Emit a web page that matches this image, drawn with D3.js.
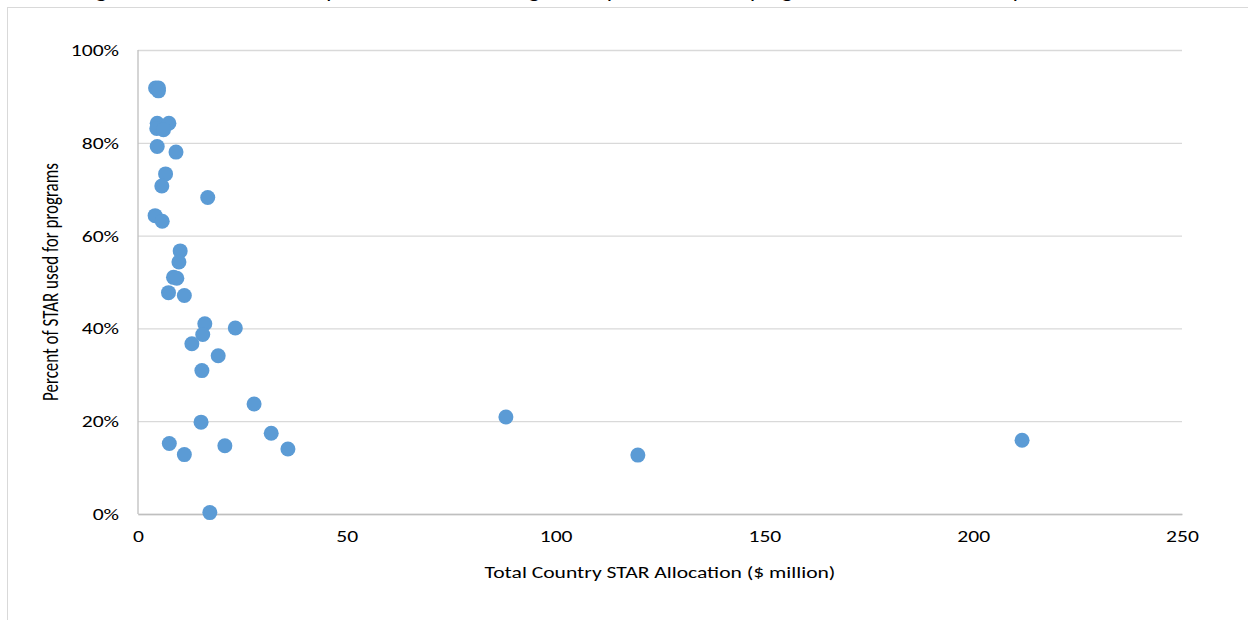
<!DOCTYPE html>
<html><head><meta charset="utf-8">
<script src="https://cdn.jsdelivr.net/npm/d3@7"></script>
<style>
body{margin:0;background:#fff}
svg{display:block}
text{font-family:Carlito,Calibri,Lato,sans-serif}
</style>
</head><body>
<svg id="c" width="1248" height="620"></svg>
<script>
// Data: total country STAR allocation ($ million) and percent used for programs
const allocation = [4.2, 4.9, 4.9, 4.6, 7.4, 4.5, 6.1, 4.6, 9.1, 6.6, 5.7, 16.7, 4.1, 5.8,
  10.1, 9.8, 8.5, 9.3, 7.3, 11.1, 16.0, 23.3, 15.5, 12.9, 19.2, 15.3, 27.8, 15.1, 31.9,
  7.5, 20.8, 35.9, 11.1, 17.2, 88.1, 119.7, 211.7];
const percentUsed = [0.918, 0.918, 0.912, 0.842, 0.842, 0.831, 0.828, 0.792, 0.780, 0.733,
  0.707, 0.682, 0.643, 0.631, 0.567, 0.543, 0.510, 0.508, 0.477, 0.471, 0.410, 0.401,
  0.387, 0.367, 0.341, 0.309, 0.237, 0.198, 0.174, 0.152, 0.147, 0.140, 0.128, 0.003,
  0.209, 0.127, 0.159];
const xTicks = [0, 50, 100, 150, 200, 250];
const yTicks = [0, 0.2, 0.4, 0.6, 0.8, 1.0];
const xTitle = "Total Country STAR Allocation ($ million)";
const yTitle = "Percent of STAR used for programs";
const titleBold = "Figure 7:";
const titleRest = " Percent of STAR spent on activities using country vs. total STAR program allocation over the period";

const SX = 1.27; // horizontal stretch of the reference's lettering
const svg = d3.select("#c");
const L = 138, R = 1182, T = 50, B = 514;
const x = d3.scaleLinear().domain([0, 250]).range([L, R]);
const y = d3.scaleLinear().domain([0, 1]).range([B, T]);

// chart area border
svg.append("rect").attr("x", 7.5).attr("y", 7.5).attr("width", 1260).attr("height", 640)
  .attr("fill", "none").attr("stroke", "#d9d9d9").attr("stroke-width", 1);

// clipped title (only the descenders are visible, as in the reference)
const tt = svg.append("text").attr("transform", `translate(80,-2.5) scale(${SX},1)`)
  .attr("font-size", 18).attr("fill", "#000");
tt.append("tspan").attr("font-weight", "bold").text(titleBold);
tt.append("tspan").text(titleRest);

// y axis with gridlines
const gy = svg.append("g").attr("transform", `translate(${L},0)`)
  .call(d3.axisLeft(y).tickValues(yTicks).tickFormat(d3.format(".0%"))
    .tickSize(-(R - L)).tickPadding(19));
gy.select(".domain").remove();
gy.selectAll(".tick line").attr("stroke", "#d9d9d9").attr("stroke-width", 1.3);
gy.selectAll(".tick text").attr("font-size", 17).attr("fill", "#000")
  .attr("font-family", "Carlito,Calibri,Lato,sans-serif")
  .attr("x", -19 / SX).attr("transform", `scale(${SX},1)`);

// y axis line
svg.append("line").attr("x1", L).attr("x2", L).attr("y1", T).attr("y2", B)
  .attr("stroke", "#bfbfbf").attr("stroke-width", 1.3);

// x axis
const gx = svg.append("g").attr("transform", `translate(0,${B})`)
  .call(d3.axisBottom(x).tickValues(xTicks).tickFormat(d3.format("d")).tickSize(0).tickPadding(16));
gx.select(".domain").attr("stroke", "#bfbfbf").attr("stroke-width", 1.6);
gx.selectAll(".tick text").attr("font-size", 17).attr("fill", "#000")
  .attr("font-family", "Carlito,Calibri,Lato,sans-serif")
  .attr("transform", `scale(${SX},1)`);

// axis titles
svg.append("text").attr("transform", `translate(${(L + R) / 2},572) scale(${SX},1)`)
  .attr("dy", "0.35em").attr("text-anchor", "middle").attr("font-size", 17).attr("fill", "#000").text(xTitle);
svg.append("text").attr("transform", `translate(50,${(T + B) / 2}) scale(${SX},1) rotate(-90)`)
  .attr("dy", "0.35em").attr("text-anchor", "middle").attr("font-size", 17).attr("fill", "#000").text(yTitle);

// points
svg.append("g").selectAll("circle").data(allocation.map((v, i) => [v, percentUsed[i]]))
  .join("circle")
  .attr("cx", d => x(d[0])).attr("cy", d => y(d[1])).attr("r", 7.5)
  .attr("fill", "#5b9bd5");
</script>
</body></html>
